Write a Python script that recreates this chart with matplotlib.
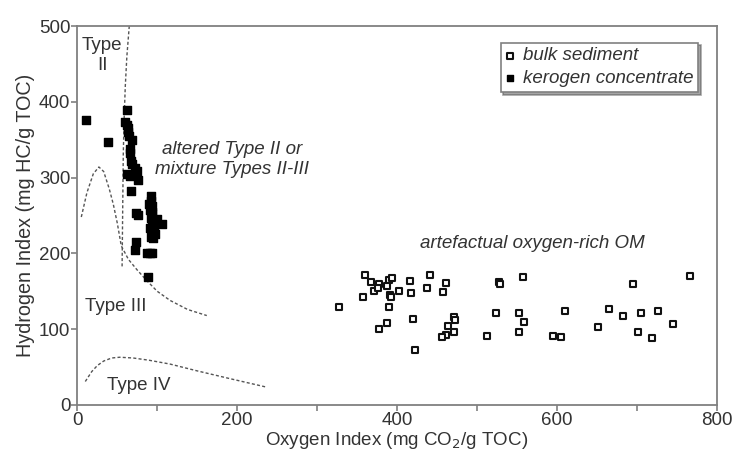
import matplotlib
matplotlib.use("Agg")
import matplotlib.pyplot as plt
from matplotlib.ticker import MultipleLocator

plt.rcParams['font.family'] = ['Liberation Sans', 'DejaVu Sans']

# bulk sediment (open squares)
bulk_oi = [327, 360, 367, 377, 390, 394, 371, 376, 387, 357, 391, 393, 402, 416,
           418, 441, 438, 461, 457, 390, 387, 377, 420, 423, 471, 472, 464, 471,
           461, 456, 513, 524, 528, 529, 557, 552, 559, 552, 610, 595, 605, 695,
           767, 665, 652, 683, 705, 727, 745, 702, 719]
bulk_hi = [129, 171, 162, 159, 165, 168, 150, 155, 157, 143, 145, 142, 150, 164,
           148, 171, 155, 161, 149, 129, 108, 100, 113, 72, 116, 112, 104, 96,
           92, 90, 91, 121, 162, 159, 169, 121, 109, 96, 124, 91, 90, 159,
           170, 126, 103, 118, 121, 124, 107, 96, 89]

# kerogen concentrate (filled squares)
ker_oi = [11, 38, 62, 60, 62, 63, 64, 65, 68, 66, 66, 67, 68, 72, 75, 62, 66, 76,
          67, 73, 76, 73, 72, 87, 91, 94, 89, 92, 92, 93, 91, 94, 92, 95, 93, 96,
          91, 94, 97, 92, 95, 98, 100, 106, 90, 94]
ker_hi = [376, 347, 389, 373, 370, 366, 360, 355, 349, 338, 332, 322, 318, 313,
          309, 305, 302, 297, 282, 253, 250, 215, 204, 200, 200, 200, 169, 276,
          269, 262, 257, 252, 247, 244, 240, 236, 233, 229, 226, 222, 220, 240,
          245, 239, 265, 255]

# dotted type boundary curves
type2_oi = [65, 62, 60, 58.5, 57.5, 57, 56.5, 56]
type2_hi = [500, 460, 420, 375, 330, 280, 230, 180]
type3_oi = [5, 12, 20, 27, 33, 40, 45, 50, 55, 60, 64, 75, 87, 100, 116, 138, 162]
type3_hi = [248, 280, 305, 314, 308, 285, 265, 240, 210, 200, 192, 178, 164, 150, 138, 126, 118]
type4_oi = [10, 18, 25, 33, 43, 53, 70, 90, 116, 150, 190, 235]
type4_hi = [31, 44, 52, 58, 62, 63, 62, 59, 54, 45, 35, 24]

grey = '#808080'
txt = '#333333'

fig = plt.figure(figsize=(7.37, 4.57), dpi=100)
ax = fig.add_axes([0.1049, 0.1138, 0.8676, 0.8293])

dots = dict(color='#555555', lw=1.0, ls=(0, (2.2, 1.6)))
ax.plot(type2_oi, type2_hi, **dots)
ax.plot(type3_oi, type3_hi, **dots)
ax.plot(type4_oi, type4_hi, **dots)

ax.scatter(bulk_oi, bulk_hi, marker='s', s=24, facecolors='white',
           edgecolors='#111111', linewidths=1.5, label='bulk sediment', zorder=3)
ax.scatter(ker_oi, ker_hi, marker='s', s=28, color='black',
           label='kerogen concentrate', zorder=3)

ax.set_xlim(0, 800)
ax.set_ylim(0, 500)
ax.xaxis.set_major_locator(MultipleLocator(200))
ax.xaxis.set_minor_locator(MultipleLocator(100))
ax.yaxis.set_major_locator(MultipleLocator(100))
ax.tick_params(axis='both', which='both', direction='out', length=4,
               width=1.2, color=grey, labelsize=13.5, labelcolor=txt, pad=1)
ax.tick_params(right=False, top=False)
for sp in ax.spines.values():
    sp.set_color(grey)
    sp.set_linewidth(1.3)

ax.set_xlabel('Oxygen Index (mg CO$_2$/g TOC)', fontsize=13.5, color=txt, labelpad=1)
ax.set_ylabel('Hydrogen Index (mg HC/g TOC)', fontsize=14.2, color=txt, labelpad=3)

ax.text(31, 461, 'Type\nII', fontsize=13.5, color=txt, ha='center', va='center',
        linespacing=1.2)
ax.text(10, 130, 'Type III', fontsize=13.5, color=txt, ha='left', va='center')
ax.text(37, 26, 'Type IV', fontsize=13.5, color=txt, ha='left', va='center')
ax.text(194, 324, 'altered Type II or\nmixture Types II-III', fontsize=13.5,
        color=txt, ha='center', va='center', style='italic', linespacing=1.2)
ax.text(569, 213, 'artefactual oxygen-rich OM', fontsize=13.5, color=txt,
        ha='center', va='center', style='italic')

leg = ax.legend(loc='upper right', bbox_to_anchor=(0.971, 0.956), fancybox=False,
                shadow=True, edgecolor=grey, framealpha=1, borderaxespad=0,
                handletextpad=0.45, handlelength=0.5, borderpad=0.25,
                labelspacing=0.3, markerscale=0.75,
                prop={'size': 13.5, 'style': 'italic'})
for t in leg.get_texts():
    t.set_color(txt)
leg.get_frame().set_linewidth(1.2)

fig.savefig('out.png', dpi=100)
